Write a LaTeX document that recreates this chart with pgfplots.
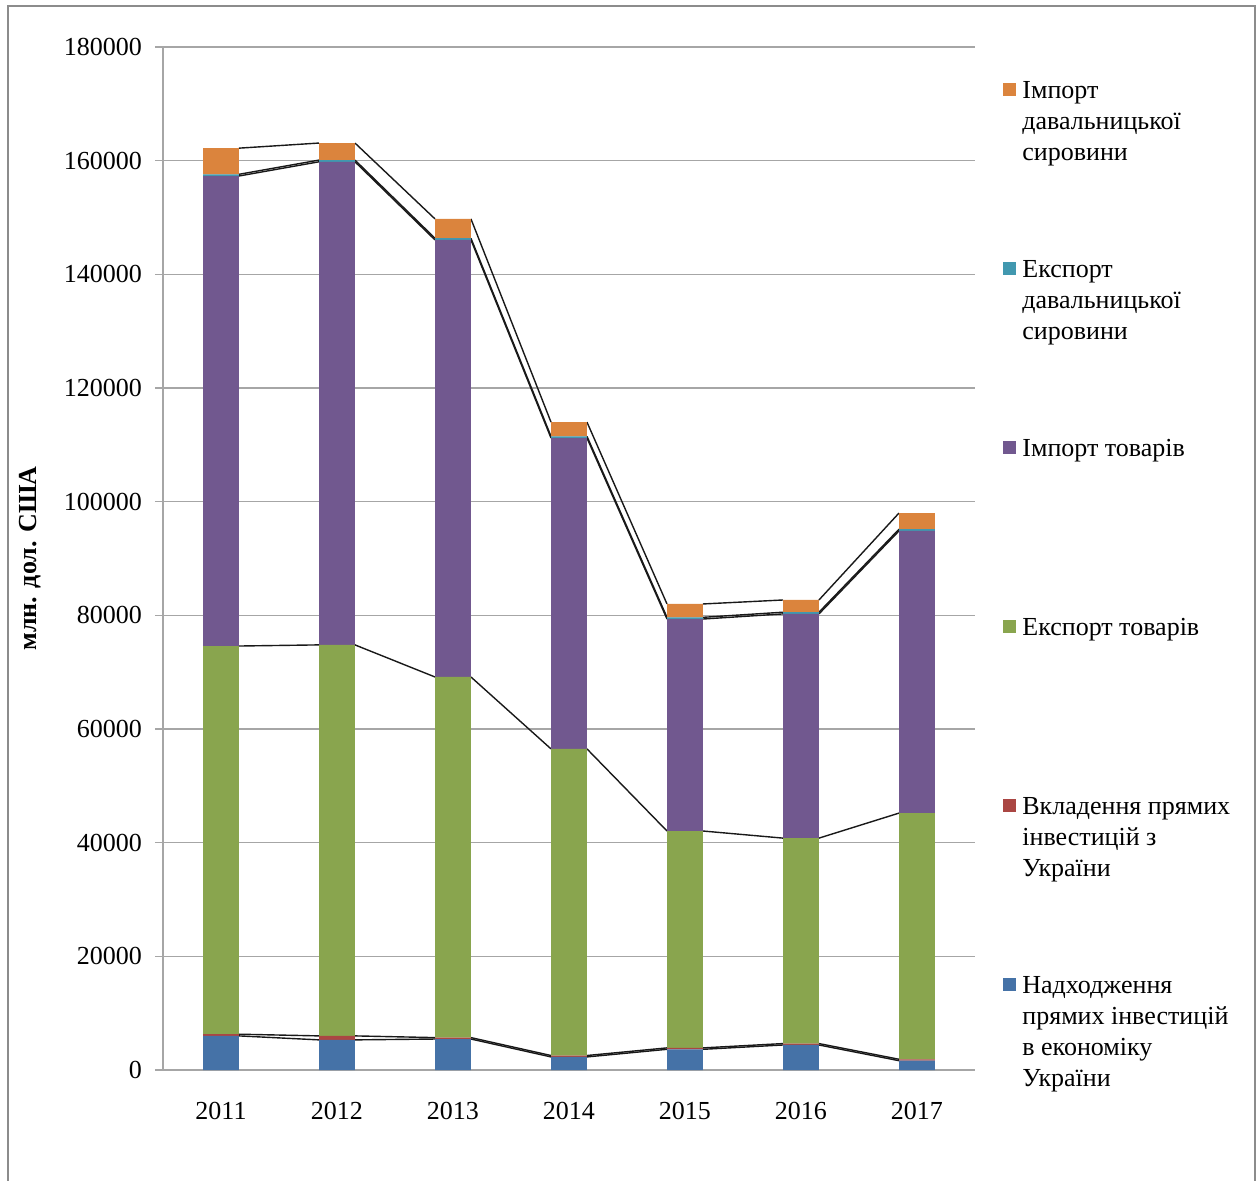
\documentclass[border=0pt]{standalone}
\usepackage{pgfplots}
\pgfplotsset{compat=1.18}
\usepackage{pgfplotstable}
\usepackage{fontspec}
\setmainfont{Liberation Serif}

\definecolor{cfdi}{HTML}{4572A7}
\definecolor{codi}{HTML}{AA4643}
\definecolor{cexg}{HTML}{89A54E}
\definecolor{cimg}{HTML}{71588F}
\definecolor{cexr}{HTML}{4198AF}
\definecolor{cimr}{HTML}{DB843D}
\definecolor{frame}{HTML}{8C8C8C}
\definecolor{gridc}{HTML}{A6A6A6}

% s = -1 / 0 / +1 : left edge, centre (gap in series lines), right edge of each bar
\pgfplotstableread{
x s fdi odi exg img exr imr
0 -1 6000 300 68300 82700 300 4600
0  0 6000 300 68300 82700 300 4600
0  1 6000 300 68300 82700 300 4600
1 -1 5300 700 68800 85000 300 3000
1  0 5300 700 68800 85000 300 3000
1  1 5300 700 68800 85000 300 3000
2 -1 5450 250 63450 76900 300 3400
2  0 5450 250 63450 76900 300 3400
2  1 5450 250 63450 76900 300 3400
3 -1 2300 250 53950 54700 300 2500
3  0 2300 250 53950 54700 300 2500
3  1 2300 250 53950 54700 300 2500
4 -1 3640 250 38160 37300 300 2350
4  0 3640 250 38160 37300 300 2350
4  1 3640 250 38160 37300 300 2350
5 -1 4400 250 36150 39450 300 2150
5  0 4400 250 36150 39450 300 2150
5  1 4400 250 36150 39450 300 2150
6 -1 1640 250 43310 49650 300 2850
6  0 1640 250 43310 49650 300 2850
6  1 1640 250 43310 49650 300 2850
}\data

\pgfplotsset{
  common/.style={scale only axis, width=406pt, height=511.5pt,
    xmin=-0.5, xmax=6.5, ymin=0, ymax=180000,
    at={(0,0)}, anchor=south west},
  sline/.style={black!90, line width=0.7pt, no marks}
}
\newcommand{\lent}[1]{\hspace{3pt}\parbox[t]{115pt}{\strut #1}}

\begin{document}
\begin{tikzpicture}
\useasboundingbox (-81.5pt,-55pt) rectangle (548.5pt,535pt);
\draw[frame, line width=1.1pt] (-77.5pt,-60pt) -- (-77.5pt,532pt) -- (546pt,532pt) -- (546pt,-60pt);

\begin{axis}[common,
  axis x line=bottom, axis y line=left,
  axis line style={draw=gridc, line width=0.8pt, -},
  ytick={0,20000,...,180000},
  scaled y ticks=false,
  yticklabel style={/pgf/number format/fixed, /pgf/number format/1000 sep={},
    /pgf/number format/assume math mode=true,
    font=\fontsize{13}{15}\selectfont, xshift=-3pt},
  ymajorgrids, grid style={gridc, line width=0.6pt},
  tick align=outside, major tick length=4pt,
  ytick style={gridc, line width=0.6pt},
  xtick={0,...,6}, xticklabels={2011,2012,2013,2014,2015,2016,2017},
  xtick style={draw=none},
  xticklabel style={font=\fontsize{13}{15}\selectfont, yshift=-8.5pt},
  ylabel={\textbf{млн. дол. США}},
  every axis y label/.style={at={(rel axis cs:-0.1638,0.5)}, rotate=90, anchor=center,
    font=\fontsize{13}{15}\selectfont},
  unbounded coords=jump]
\addplot[sline] table[x expr=\thisrow{x}+0.155*\thisrow{s}, y expr={\thisrow{s}==0 ? nan : \thisrow{fdi}}] {\data};
\addplot[sline] table[x expr=\thisrow{x}+0.155*\thisrow{s}, y expr={\thisrow{s}==0 ? nan : \thisrow{fdi}+\thisrow{odi}}] {\data};
\addplot[sline] table[x expr=\thisrow{x}+0.155*\thisrow{s}, y expr={\thisrow{s}==0 ? nan : \thisrow{fdi}+\thisrow{odi}+\thisrow{exg}}] {\data};
\addplot[sline] table[x expr=\thisrow{x}+0.155*\thisrow{s}, y expr={\thisrow{s}==0 ? nan : \thisrow{fdi}+\thisrow{odi}+\thisrow{exg}+\thisrow{img}}] {\data};
\addplot[sline] table[x expr=\thisrow{x}+0.155*\thisrow{s}, y expr={\thisrow{s}==0 ? nan : \thisrow{fdi}+\thisrow{odi}+\thisrow{exg}+\thisrow{img}+\thisrow{exr}}] {\data};
\addplot[sline] table[x expr=\thisrow{x}+0.155*\thisrow{s}, y expr={\thisrow{s}==0 ? nan : \thisrow{fdi}+\thisrow{odi}+\thisrow{exg}+\thisrow{img}+\thisrow{exr}+\thisrow{imr}}] {\data};
\end{axis}

\begin{axis}[common, axis lines=none, ybar stacked, bar width=0.31,
  every axis plot/.append style={draw=none,
    legend image code/.code={\fill[##1] (0pt,-3.5pt) rectangle (6.5pt,3pt);}},
  reverse legend,
  legend cell align=left,
  legend style={at={(rel axis cs:1.0345,0.971)}, anchor=north west,
    draw=none, fill=none, inner sep=0pt, row sep=77.1pt,
    font=\fontsize{13}{15.5}\selectfont,
    nodes={inner sep=0pt}}]
\addplot[fill=cfdi] table[x=x, y=fdi] {\data};
\addlegendentry{\lent{Надходження\\прямих інвестицій\\в економіку\\України}}
\addplot[fill=codi] table[x=x, y=odi] {\data};
\addlegendentry{\lent{Вкладення прямих\\інвестицій з\\України}}
\addplot[fill=cexg] table[x=x, y=exg] {\data};
\addlegendentry{\lent{Експорт товарів}}
\addplot[fill=cimg] table[x=x, y=img] {\data};
\addlegendentry{\lent{Імпорт товарів}}
\addplot[fill=cexr] table[x=x, y=exr] {\data};
\addlegendentry{\lent{Експорт\\давальницької\\сировини}}
\addplot[fill=cimr] table[x=x, y=imr] {\data};
\addlegendentry{\lent{Імпорт\\давальницької\\сировини}}
\end{axis}
\end{tikzpicture}
\end{document}
